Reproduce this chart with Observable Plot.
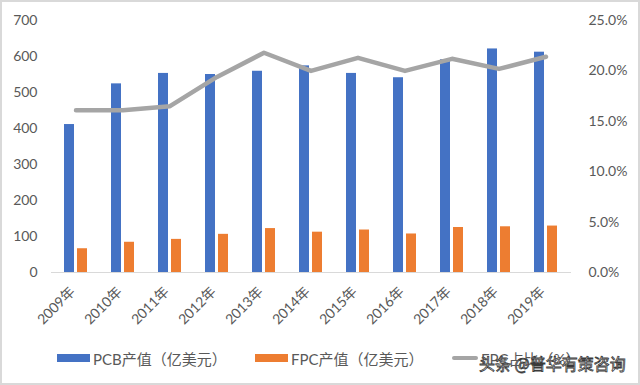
<!DOCTYPE html>
<html>
<head>
<meta charset="utf-8">
<script src="https://cdn.jsdelivr.net/npm/d3@7"></script>
<script src="https://cdn.jsdelivr.net/npm/@observablehq/plot@0.6"></script>
<style>
  body { margin: 0; background: #fff; }
  #wrap { position: relative; width: 640px; height: 385px; background: #fff; overflow: hidden;
          font-family: Lato, "Noto Sans CJK SC", sans-serif; color: #595959; }
  #chart { position: absolute; left: 0; top: 0; }
  #frame { position: absolute; left: 0; top: 0; width: 640px; height: 385px; box-sizing: border-box;
           border: 2px solid #d9d9d9; pointer-events: none; }
  .leg { position: absolute; top: 349px; height: 18px; display: flex; align-items: center;
         font-size: 15px; white-space: nowrap; }
  .sw { display: inline-block; width: 33px; height: 8px; margin-right: 3px; }
  .swl { display: inline-block; width: 26px; height: 4px; border-radius: 2px; margin-right: 3px; }
  #wm { position: absolute; left: 479px; top: 352px; font-size: 16px; line-height: 22px;
        font-family: "Noto Sans CJK SC", sans-serif; color: #fff; -webkit-text-stroke: 0.8px #3a3a3a;
        white-space: nowrap; }
</style>
</head>
<body>
<div id="wrap">
  <div id="chart"></div>
  <div class="leg" style="left:57px"><span class="sw" style="background:#4472c4"></span><span id="l1"></span></div>
  <div class="leg" style="left:255px"><span class="sw" style="background:#ed7d31"></span><span id="l2"></span></div>
  <div class="leg" style="left:452px"><span class="swl" style="background:#a5a5a5"></span><span id="l3"></span></div>
  <div id="wm">头条 @普华有策咨询</div>
  <div id="frame"></div>
</div>
<script>
const years = ["2009年","2010年","2011年","2012年","2013年","2014年","2015年","2016年","2017年","2018年","2019年"];
const pcb = [411, 524, 553, 550, 559, 574, 553, 541, 591, 621, 612];
const fpc = [66, 84, 92, 106, 122, 112, 118, 107, 125, 127, 129];
const ratio = [16.1, 16.1, 16.5, 19.4, 21.8, 20.0, 21.3, 20.0, 21.2, 20.2, 21.4];
const leftTicks = [0, 100, 200, 300, 400, 500, 600, 700];
const rightTicks = [0, 5, 10, 15, 20, 25];
const seriesNames = ["PCB产值（亿美元）", "FPC产值（亿美元）", "FPC占比（%）"];

document.getElementById("l1").textContent = seriesNames[0];
document.getElementById("l2").textContent = seriesNames[1];
document.getElementById("l3").textContent = seriesNames[2];

const K = 700 / 25; // right axis (%) mapped onto left axis units
const table = years.map((y, i) => ({year: y, pcb: pcb[i], fpc: fpc[i], ratio: ratio[i]}));

const chart = Plot.plot({
  width: 640,
  height: 340,
  marginLeft: 51,
  marginRight: 69,
  marginTop: 20,
  marginBottom: 68,
  style: {background: "transparent", fontFamily: 'Lato, "Noto Sans CJK SC", sans-serif', fontSize: "14px", color: "#595959", overflow: "visible"},
  x: {domain: years, paddingInner: 0.503, paddingOuter: 0.2515, axis: null},
  y: {domain: [0, 700], axis: null, label: null},
  marks: [
    Plot.ruleY([0], {stroke: "#d9d9d9", strokeWidth: 1}),
    Plot.barY(table, {x: "year", y: "pcb", fill: "#4472c4", insetRight: 13}),
    Plot.barY(table, {x: "year", y: "fpc", fill: "#ed7d31", insetLeft: 13}),
    Plot.lineY(table, {x: "year", y: d => d.ratio * K, stroke: "#a5a5a5", strokeWidth: 4.5, strokeLinecap: "round", strokeLinejoin: "round"}),
    Plot.axisY(leftTicks, {anchor: "left", tickSize: 0, tickPadding: 14, label: null, fontSize: 14}),
    Plot.axisY(rightTicks.map(v => v * K), {anchor: "right", tickSize: 0, tickPadding: 17, label: null, fontSize: 14, tickFormat: d => (d / K).toFixed(1) + "%"}),
    Plot.text(years, {x: d => d, frameAnchor: "bottom", dy: 20, rotate: -45, textAnchor: "end", fontSize: 14, fill: "#595959"})
  ]
});
document.getElementById("chart").appendChild(chart);
</script>
</body>
</html>
